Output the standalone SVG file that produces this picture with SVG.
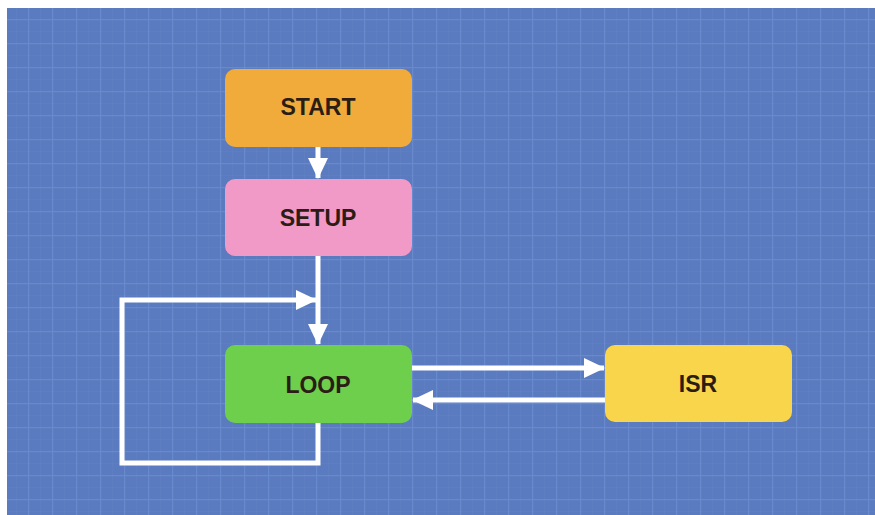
<svg xmlns="http://www.w3.org/2000/svg" width="875" height="515" viewBox="0 0 875 515">
  <style>
    .box text { font-family: "Liberation Sans", Arial, sans-serif; font-weight: bold; font-size: 23px; fill: #2b1c14; text-anchor: middle; }
    .wire { fill: none; stroke: #ffffff; stroke-width: 5; stroke-linejoin: miter; }
  </style>
  <defs>
    <pattern id="minor" patternUnits="userSpaceOnUse" x="4" y="7" width="12" height="12">
      <path d="M0 0H12M0 0V12" stroke="#6181c3" stroke-width="1" fill="none"/>
    </pattern>
    <pattern id="major" patternUnits="userSpaceOnUse" x="4" y="19" width="24" height="24">
      <path d="M0 0H24M0 0V24" stroke="#6889cb" stroke-width="2.5" fill="none"/>
    </pattern>
    <marker id="head" markerUnits="userSpaceOnUse" markerWidth="22" markerHeight="22" viewBox="0 0 22 22" refX="20" refY="11" orient="auto">
      <path d="M0 1L21 11L0 21Z" fill="#ffffff"/>
    </marker>
  </defs>

  <!-- canvas -->
  <rect width="875" height="515" fill="#ffffff"/>
  <rect x="7" y="8" width="868" height="507" fill="#5a7bbf"/>
  <rect x="7" y="8" width="868" height="507" fill="url(#minor)"/>
  <rect x="7" y="8" width="868" height="507" fill="url(#major)"/>

  <!-- connectors -->
  <g id="connectors">
    <path class="wire" d="M318 147V178" marker-end="url(#head)"/>
    <path class="wire" d="M318 256V344" marker-end="url(#head)"/>
    <path class="wire" d="M318 423V463H122V300H316" marker-end="url(#head)"/>
    <path class="wire" d="M412 368H604" marker-end="url(#head)"/>
    <path class="wire" d="M605 400H413" marker-end="url(#head)"/>
  </g>

  <!-- nodes -->
  <g id="start" class="box">
    <rect x="225" y="69" width="187" height="78" rx="10" fill="#f0ab3b"/>
    <text x="318" y="115">START</text>
  </g>
  <g id="setup" class="box">
    <rect x="225" y="179" width="187" height="77" rx="10" fill="#f19ac8"/>
    <text x="318" y="226">SETUP</text>
  </g>
  <g id="loop" class="box">
    <rect x="225" y="345" width="187" height="78" rx="10" fill="#6dcf4b"/>
    <text x="318" y="393">LOOP</text>
  </g>
  <g id="isr" class="box">
    <rect x="605" y="345" width="187" height="77" rx="10" fill="#f9d54b"/>
    <text x="698" y="392">ISR</text>
  </g>
</svg>
